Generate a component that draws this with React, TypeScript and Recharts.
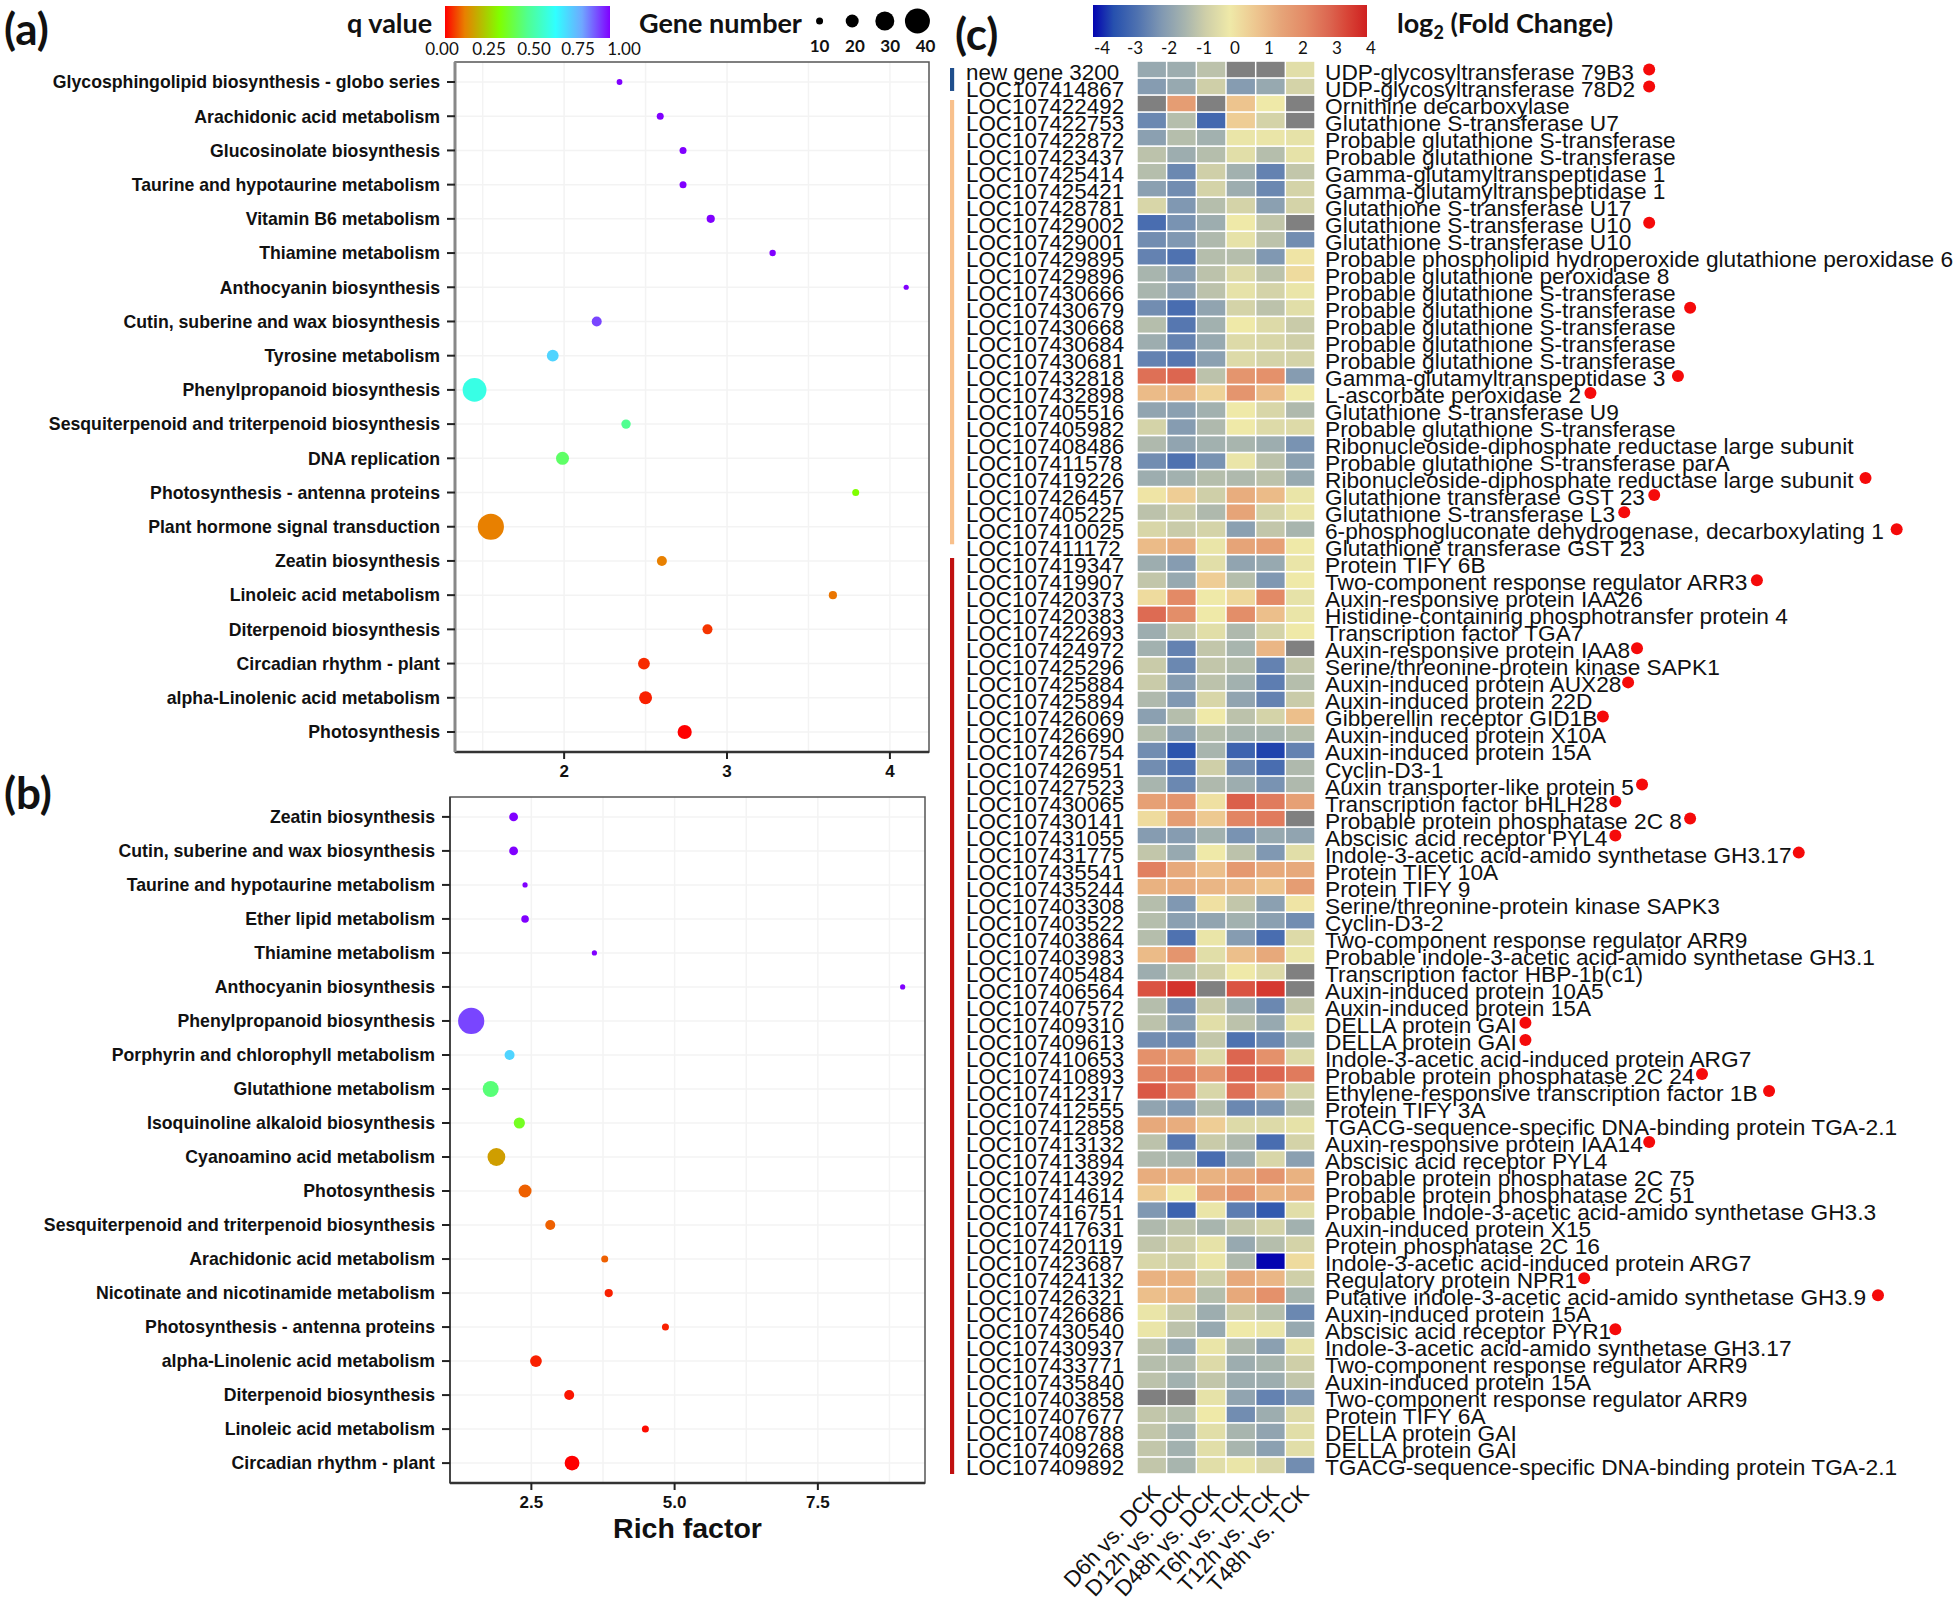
import React from "react";
import { ScatterChart, Scatter, XAxis, YAxis, CartesianGrid, ReferenceArea } from "recharts";

const FONT = "'Liberation Sans', Arial, sans-serif";
const TITLE_FONT = "Lato, 'Noto Sans', sans-serif";

// ---------- panel (a) ----------
const namesA = ["Glycosphingolipid biosynthesis - globo series","Arachidonic acid metabolism","Glucosinolate biosynthesis","Taurine and hypotaurine metabolism","Vitamin B6 metabolism","Thiamine metabolism","Anthocyanin biosynthesis","Cutin, suberine and wax biosynthesis","Tyrosine metabolism","Phenylpropanoid biosynthesis","Sesquiterpenoid and triterpenoid biosynthesis","DNA replication","Photosynthesis - antenna proteins","Plant hormone signal transduction","Zeatin biosynthesis","Linoleic acid metabolism","Diterpenoid biosynthesis","Circadian rhythm - plant","alpha-Linolenic acid metabolism","Photosynthesis"];
const richA = [2.34,2.59,2.73,2.73,2.9,3.28,4.1,2.2,1.93,1.45,2.38,1.99,3.79,1.55,2.6,3.65,2.88,2.49,2.5,2.74];
const genesA = [8,10,10,10,12,9,7,15,18,38,14,20,10,42,15,12,15,18,20,22];
const qA = [1,1,1,1,1,1,1,0.93,0.75,0.63,0.5,0.45,0.33,0.12,0.12,0.11,0.05,0.04,0.03,0];
const ticksA = [2,3,4];
const gridA = [1.5,2,2.5,3,3.5,4];

// ---------- panel (b) ----------
const namesB = ["Zeatin biosynthesis","Cutin, suberine and wax biosynthesis","Taurine and hypotaurine metabolism","Ether lipid metabolism","Thiamine metabolism","Anthocyanin biosynthesis","Phenylpropanoid biosynthesis","Porphyrin and chlorophyll metabolism","Glutathione metabolism","Isoquinoline alkaloid biosynthesis","Cyanoamino acid metabolism","Photosynthesis","Sesquiterpenoid and triterpenoid biosynthesis","Arachidonic acid metabolism","Nicotinate and nicotinamide metabolism","Photosynthesis - antenna proteins","alpha-Linolenic acid metabolism","Diterpenoid biosynthesis","Linoleic acid metabolism","Circadian rhythm - plant"];
const richB = [2.19,2.19,2.39,2.39,3.6,8.98,1.45,2.12,1.79,2.29,1.89,2.39,2.83,3.78,3.85,4.84,2.58,3.16,4.49,3.21];
const genesB = [13,13,7,11,7,7,42,15,25,17,28,20,15,10,12,10,18,15,10,23];
const qB = [1,1,1,1,1,1,0.93,0.75,0.47,0.37,0.17,0.09,0.09,0.09,0.03,0.03,0.03,0.02,0.01,0];
const ticksB = [2.5,5,7.5];
const gridB = [2.5,3.75,5,6.25,7.5,8.75];

// ---------- legends ----------
const qStops: [number,string][] = [[0,"#ff0000"],[0.12,"#e88000"],[0.33,"#80ff00"],[0.5,"#50ff90"],[0.67,"#30ffff"],[0.83,"#6fa8ff"],[1,"#8000ff"]];
const qLegend = ["0.00","0.25","0.50","0.75","1.00"];
const qLegendX = [442,489,534,578,624];
const geneLegend = [10,20,30,40];
const fcStops: [number,string][] = [[-4,"#0404b0"],[-3.4,"#2650ae"],[-2.7,"#4f72b0"],[-2,"#8098b2"],[-1.3,"#a8b5ae"],[-0.7,"#cfcfa8"],[0,"#efe9a8"],[0.8,"#edc48e"],[1.5,"#e6a478"],[2.2,"#e38a66"],[2.9,"#dc6650"],[3.4,"#d84638"],[4,"#cf2020"]];
const fcLegend = [-4,-3,-2,-1,0,1,2,3,4];
const fcLegendX = [1102,1135,1169,1204,1235,1269,1303,1337,1371];

// ---------- panel (c) ----------
const conditions = ["D6h vs. DCK","D12h vs. DCK","D48h vs. DCK","T6h vs. TCK","T12h vs. TCK","T48h vs. TCK"];
const geneIds = ["new gene 3200","LOC107414867","LOC107422492","LOC107422753","LOC107422872","LOC107423437","LOC107425414","LOC107425421","LOC107428781","LOC107429002","LOC107429001","LOC107429895","LOC107429896","LOC107430666","LOC107430679","LOC107430668","LOC107430684","LOC107430681","LOC107432818","LOC107432898","LOC107405516","LOC107405982","LOC107408486","LOC107411578","LOC107419226","LOC107426457","LOC107405225","LOC107410025","LOC107411172","LOC107419347","LOC107419907","LOC107420373","LOC107420383","LOC107422693","LOC107424972","LOC107425296","LOC107425884","LOC107425894","LOC107426069","LOC107426690","LOC107426754","LOC107426951","LOC107427523","LOC107430065","LOC107430141","LOC107431055","LOC107431775","LOC107435541","LOC107435244","LOC107403308","LOC107403522","LOC107403864","LOC107403983","LOC107405484","LOC107406564","LOC107407572","LOC107409310","LOC107409613","LOC107410653","LOC107410893","LOC107412317","LOC107412555","LOC107412858","LOC107413132","LOC107413894","LOC107414392","LOC107414614","LOC107416751","LOC107417631","LOC107420119","LOC107423687","LOC107424132","LOC107426321","LOC107426686","LOC107430540","LOC107430937","LOC107433771","LOC107435840","LOC107403858","LOC107407677","LOC107408788","LOC107409268","LOC107409892"];
const geneNames = ["UDP-glycosyltransferase 79B3","UDP-glycosyltransferase 78D2","Ornithine decarboxylase","Glutathione S-transferase U7","Probable glutathione S-transferase","Probable glutathione S-transferase","Gamma-glutamyltranspeptidase 1","Gamma-glutamyltranspeptidase 1","Glutathione S-transferase U17","Glutathione S-transferase U10","Glutathione S-transferase U10","Probable phospholipid hydroperoxide glutathione peroxidase 6","Probable glutathione peroxidase 8","Probable glutathione S-transferase","Probable glutathione S-transferase","Probable glutathione S-transferase","Probable glutathione S-transferase","Probable glutathione S-transferase","Gamma-glutamyltranspeptidase 3","L-ascorbate peroxidase 2","Glutathione S-transferase U9","Probable glutathione S-transferase","Ribonucleoside-diphosphate reductase large subunit","Probable glutathione S-transferase parA","Ribonucleoside-diphosphate reductase large subunit","Glutathione transferase GST 23","Glutathione S-transferase L3","6-phosphogluconate dehydrogenase, decarboxylating 1","Glutathione transferase GST 23","Protein TIFY 6B","Two-component response regulator ARR3","Auxin-responsive protein IAA26","Histidine-containing phosphotransfer protein 4","Transcription factor TGA7","Auxin-responsive protein IAA8","Serine/threonine-protein kinase SAPK1","Auxin-induced protein AUX28","Auxin-induced protein 22D","Gibberellin receptor GID1B","Auxin-induced protein X10A","Auxin-induced protein 15A","Cyclin-D3-1","Auxin transporter-like protein 5","Transcription factor bHLH28","Probable protein phosphatase 2C 8","Abscisic acid receptor PYL4","Indole-3-acetic acid-amido synthetase GH3.17","Protein TIFY 10A","Protein TIFY 9","Serine/threonine-protein kinase SAPK3","Cyclin-D3-2","Two-component response regulator ARR9","Probable indole-3-acetic acid-amido synthetase GH3.1","Transcription factor HBP-1b(c1)","Auxin-induced protein 10A5","Auxin-induced protein 15A","DELLA protein GAI","DELLA protein GAI","Indole-3-acetic acid-induced protein ARG7","Probable protein phosphatase 2C 24","Ethylene-responsive transcription factor 1B","Protein TIFY 3A","TGACG-sequence-specific DNA-binding protein TGA-2.1","Auxin-responsive protein IAA14","Abscisic acid receptor PYL4","Probable protein phosphatase 2C 75","Probable protein phosphatase 2C 51","Probable Indole-3-acetic acid-amido synthetase GH3.3","Auxin-induced protein X15","Protein phosphatase 2C 16","Indole-3-acetic acid-induced protein ARG7","Regulatory protein NPR1","Putative indole-3-acetic acid-amido synthetase GH3.9","Auxin-induced protein 15A","Abscisic acid receptor PYR1","Indole-3-acetic acid-amido synthetase GH3.17","Two-component response regulator ARR9","Auxin-induced protein 15A","Two-component response regulator ARR9","Protein TIFY 6A","DELLA protein GAI","DELLA protein GAI","TGACG-sequence-specific DNA-binding protein TGA-2.1"];
const N = null;
const foldChange: (number|null)[][] = [
[-1.6,-1.5,-1,N,N,-0.3],[-1.9,-1.6,-0.7,-1.9,-1.6,-0.6],[N,1.7,N,0.8,0,N],[-2.3,-1.1,-2.9,0.6,-0.6,N],[-1.8,-1.1,-1.4,-0.1,-0.1,-0.2],[-1,-1.5,-1.1,-0.3,-1.1,-0.2],[-1.1,-2.3,-0.7,-1.4,-2.4,-0.9],[-1.8,-2.2,-0.6,-1.5,-2.3,-0.6],[-0.5,-2,-1.1,-0.6,-1.8,-0.6],[-2.8,-2.1,-1.5,0,-0.9,N],
[-2.2,-2,-1.2,-0.2,-1,-2.2],[-2.4,-2.7,-1.1,-1.1,-2,0.1],[-1.3,-1.9,-1,-0.4,-1,0.3],[-1.3,-1.8,-1,-0.2,-0.6,-0.1],[-2.2,-2.8,-1.7,-0.6,-1,-0.3],[-1.1,-2.6,-1.4,0,-0.4,-0.8],[-1.5,-2.4,-1.6,-0.4,-0.5,-0.7],[-2.4,-2.6,-1.8,-0.4,-0.6,-0.6],[2.7,2.9,-1,1.9,2,-1.9],[1,1.2,0.5,1.9,1,0],
[-1.7,-1.8,-1.4,0,-0.5,-1.2],[-0.6,-1.9,-1.2,0,-0.4,-0.4],[-1.2,-1.7,-1.4,-1.3,-1.5,-2.1],[-2.2,-2.7,-2.1,-0.1,-1,-1.8],[-1.5,-1.4,-1.1,-1.2,-1,-1.6],[0.1,0.6,-0.7,1.3,1,-0.1],[-1,-0.8,-1.2,1.5,-0.6,-0.1],[-0.5,-0.8,-0.6,-1.8,-0.9,-1.3],[1,1.3,-0.1,1.5,1.6,0],[-1.5,-1.9,-0.3,-1.7,-1.6,-0.1],
[-0.9,-1.6,0.6,-1.1,-2,0],[0.3,2.2,0,0.4,2.2,-0.2],[2.8,2.1,0,2.1,0.9,-0.1],[-1.5,-0.9,-0.3,-1.2,-0.6,0],[-1.4,-2.4,-0.9,-1.3,1.1,N],[-0.8,-2.3,-0.9,-1.1,-2.4,-0.9],[-0.8,-1.9,-1,-1.4,-2.5,-1.1],[-1.2,-2,-0.5,-1.7,-2.4,-0.8],[-1.8,-1.1,0,-1,-0.6,0.9],[-1.1,-1.8,-1.1,-1.3,-1.3,-1.1],
[-2.2,-3.3,-1.3,-3,-3.5,-2.4],[-2.2,-2.7,-0.7,-2.2,-2.8,-1.2],[-1.3,-2.3,-1.2,-1.5,-2.1,-1.2],[1.6,1.9,0.2,3,2.5,1.6],[0.3,1.7,0.7,2.3,2.5,N],[-1.9,-1.9,-1.4,-2.1,-1.6,-1.7],[-0.9,-1.6,0,-1,-2,-0.3],[2.4,1.4,0.9,1.8,1.4,1.4],[1.2,1.3,1.1,1.1,0.8,1.7],[-1.1,-2,0.2,-0.9,-1.8,0.1],
[-1.1,-1.8,-1.7,-1.4,-1.8,-2.2],[-1.1,-2.7,-0.1,-1.9,-2.8,-0.4],[1,1.9,-0.3,0.9,1.4,-0.1],[-1.5,-1.1,-0.7,0,-0.4,N],[3.2,3.7,N,3.2,3.6,N],[-1.1,-2.2,-0.8,-1.5,-2.3,-0.9],[-1,-1.9,-0.3,-1,-1.6,-0.2],[-2.2,-2.3,-0.9,-2.7,-2.3,-1.4],[2,1.8,-0.4,2.9,2,-0.4],[2.3,2.5,1.9,2.9,2.9,2.5],
[3.1,2.4,-0.5,2.7,1.5,-0.6],[-1.7,-2,-1.1,-2.3,-2.1,-1.1],[1.4,1.3,0.6,-0.4,-0.4,-0.2],[-1,-2.6,-0.8,-1.2,-2.8,-0.6],[-1.2,-1.3,-2.8,-1.5,-0.5,-1.8],[1.3,1.3,1.2,1.4,1.9,1.2],[0.7,0,1.5,1.9,1.2,1.3],[-2,-3,-0.1,-2.5,-3.2,-0.3],[-1.2,-1,-1.3,-0.9,-0.6,-1.4],[-0.9,-0.7,-0.2,-1.6,-1.1,-0.6],
[-0.5,-0.7,-0.1,-1.2,-4,0.3],[1.2,1.2,-0.7,1.4,1.1,-0.7],[0.9,1.1,-1.1,1.4,2,-1.3],[-0.1,-0.8,-1.5,-0.8,-1.1,-2.3],[-0.1,-1,-1.6,0,-0.1,-1.6],[-1,-1.6,-0.1,-1.2,-1.8,-0.2],[-1.1,-1.2,-0.4,-1.5,-1.3,-0.7],[-1,-1.4,-0.9,-1.5,-1.5,-0.9],[N,N,-0.2,-1.7,-2.4,-2],[-0.9,-1.1,0,-2.2,-1.5,-0.4],
[-0.9,-1.4,-0.3,-1.3,-1.7,-0.3],[-0.9,-1.4,-0.3,-1.3,-1.8,-0.3],[-0.9,-1.3,-0.3,-0.1,-0.5,-2.2]];
// row index (0-based) and position of the red markers, in heatmap column units
const markerRows = [0,1,9,14,18,19,24,25,26,27,30,34,36,38,42,43,44,45,46,56,57,59,60,63,71,72,74];
const markerPos = [17.26,17.26,17.26,18.64,18.23,15.28,24.55,17.43,16.42,25.6,20.89,16.85,16.55,15.7,17.02,16.12,18.64,16.12,22.3,13.09,13.09,19.04,21.3,17.26,15.07,24.97,16.12];
const groupFrom = [0.41,2.29,29.2];
const groupTo = [1.76,28.38,83];
const groupColors = ["#1f4e8c","#f8c08c","#c01010"];

const hex = (c: string) => [1,3,5].map((i) => parseInt(c.slice(i,i+2),16));
function ramp(stops: [number,string][], v: number) {
  if (v <= stops[0][0]) return stops[0][1];
  for (let i = 1; i < stops.length; i++) {
    if (v <= stops[i][0]) {
      const t = (v - stops[i-1][0]) / (stops[i][0] - stops[i-1][0]);
      const a = hex(stops[i-1][1]), b = hex(stops[i][1]);
      return `rgb(${a.map((x,k)=>Math.round(x+(b[k]-x)*t)).join(",")})`;
    }
  }
  return stops[stops.length-1][1];
}
const radius = (g: number) => 0.5 + 0.3*g;
const Bubble = (p: any) => <circle cx={p.cx} cy={p.cy} r={radius(p.payload.genes)} fill={ramp(qStops,p.payload.q)} />;
const GeneDot = (p: any) => <circle cx={p.cx} cy={p.cy} r={radius(p.payload.genes)} fill="#000" />;
const HeatCell = (p: any) => <rect x={p.cx-14.1} y={p.cy-7.7} width={28.2} height={15.4} fill={p.payload.v===null?"#808080":ramp(fcStops,p.payload.v)} />;
const Marker = (p: any) => <circle cx={p.cx} cy={p.cy} r={6} fill="#f50a0a" />;

function BubblePanel(props: any) {
  const { names, rich, genes, q, domain, ticks, grid, left, top, width, height, yWidth, marginRight, marginTop, axisH, leftAxis, fmt, label } = props;
  const data = names.map((n: string, i: number) => ({ row: i, rich: rich[i], genes: genes[i], q: q[i] }));
  const rows = names.map((_: string, i: number) => i);
  return (
    <div style={{ position: "absolute", left, top }}>
      <ScatterChart width={width} height={height} margin={{ top: marginTop, right: marginRight, bottom: 0, left: 0 }}>
        <CartesianGrid stroke="#f3f3f3" strokeWidth={1.5} verticalValues={grid} horizontalValues={rows} syncWithTicks={false} />
        <XAxis type="number" dataKey="rich" domain={domain} ticks={ticks} interval={0} height={axisH} tickFormatter={fmt} allowDataOverflow
          tick={{ fontSize: 17, fontWeight: "bold", fill: "#111", fontFamily: FONT }} tickSize={7} tickMargin={6}
          tickLine={{ stroke: "#222", strokeWidth: 2 }} axisLine={{ stroke: "#333", strokeWidth: 2.5 }} label={label} />
        <YAxis type="number" dataKey="row" reversed domain={[-0.585, names.length-1+0.585]} ticks={rows} interval={0} width={yWidth} allowDataOverflow
          tickFormatter={(i: number) => names[i]} tick={{ fontSize: 17.7, fontWeight: "bold", fill: "#111", fontFamily: FONT }} tickSize={8} tickMargin={7}
          tickLine={{ stroke: "#222", strokeWidth: 2 }} axisLine={leftAxis} />
        <ReferenceArea x1={domain[0]} x2={domain[1]} y1={-0.585} y2={names.length-1+0.585} fill="none" stroke="#555" strokeWidth={1.5} />
        <Scatter data={data} isAnimationActive={false} shape={Bubble} />
      </ScatterChart>
    </div>
  );
}

const HEAT_X: [number,number] = [-6.3, 27.7];
const LEFT_LABEL_X = 16;
const RIGHT_LABEL_X = 375;
const LeftTick = (p: any) => <text x={LEFT_LABEL_X} y={p.y+10} fontSize={22.4} fontFamily={FONT} fill="#111">{geneIds[p.payload.value-0.5]}</text>;
const RightTick = (p: any) => <text x={RIGHT_LABEL_X} y={p.y+10} fontSize={22.7} fontFamily={FONT} fill="#111">{geneNames[p.payload.value-0.5]}</text>;
const ColTick = (p: any) => (
  <text transform={`rotate(-47 ${p.x+10} ${p.y+12})`} x={p.x+10} y={p.y+12} textAnchor="end" fontSize={22.4} fontFamily={FONT} fill="#111">
    {conditions[p.payload.value-0.5]}
  </text>
);
const GeneTick = (p: any) => (
  <text x={p.x+(p.payload.value-10)*0.27} y={p.y+8} textAnchor="middle" fontSize={17} fontWeight="bold" fontFamily={TITLE_FONT} fill="#111">{p.payload.value}</text>
);

function Heatmap() {
  const cells = foldChange.flatMap((r, row) => r.map((v, col) => ({ col: col+0.5, row: row+0.5, v })));
  const markers = markerRows.map((r, i) => ({ col: markerPos[i], row: r+0.5 }));
  const rowTicks = geneIds.map((_, i) => i+0.5);
  return (
    <div style={{ position: "absolute", left: 950, top: 0 }}>
      <ScatterChart width={1009} height={1604} margin={{ top: 61, right: 0, bottom: 0, left: 0 }}>
        <XAxis type="number" dataKey="col" domain={HEAT_X} ticks={conditions.map((_, i) => i+0.5)} interval={0} height={130} tick={ColTick} tickLine={false} axisLine={false} />
        <YAxis yAxisId="l" type="number" dataKey="row" mirror reversed domain={[0,83]} ticks={rowTicks} interval={0} tick={LeftTick} tickLine={false} axisLine={false} />
        <YAxis yAxisId="r" type="number" dataKey="row" mirror reversed domain={[0,83]} ticks={rowTicks} interval={0} tick={RightTick} tickLine={false} axisLine={false} />
        {groupFrom.map((from, i) => (
          <ReferenceArea key={i} yAxisId="l" x1={HEAT_X[0]} x2={HEAT_X[0]+0.14} y1={from} y2={groupTo[i]} fill={groupColors[i]} fillOpacity={1} stroke="none" />
        ))}
        <Scatter yAxisId="l" data={cells} isAnimationActive={false} shape={HeatCell} />
        <Scatter yAxisId="r" data={markers} isAnimationActive={false} shape={Marker} />
      </ScatterChart>
    </div>
  );
}

const abs = (left: number, top: number, extra: any = {}) => ({ position: "absolute" as const, left, top, ...extra });
const centered = (x: number, y: number, size: number, extra: any = {}) => ({ position: "absolute" as const, left: x-40, width: 80, textAlign: "center" as const, top: y-size*0.6, fontSize: size, lineHeight: `${size*1.2}px`, ...extra });
const grad = (stops: [number,string][]) => {
  const a = stops[0][0], b = stops[stops.length-1][0];
  return `linear-gradient(to right, ${stops.map(([v,c]) => `${c} ${((v-a)/(b-a))*100}%`).join(", ")})`;
};

export default function App() {
  return (
    <div style={{ position: "absolute", left: 0, top: 0, width: 1959, height: 1604, background: "#fff", color: "#111", fontFamily: TITLE_FONT, overflow: "hidden" }}>
      <BubblePanel names={namesA} rich={richA} genes={genesA} q={qA} domain={[1.33,4.24]} ticks={ticksA} grid={gridA}
        left={0} top={50} width={950} height={742} yWidth={455} marginRight={21} marginTop={12} axisH={40} leftAxis={{ stroke: "#888", strokeWidth: 3 }} />
      <BubblePanel names={namesB} rich={richB} genes={genesB} q={qB} domain={[1.08,9.37]} ticks={ticksB} grid={gridB}
        left={0} top={785} width={950} height={775} yWidth={450} marginRight={25} marginTop={12} axisH={77} leftAxis={{ stroke: "#333", strokeWidth: 1.5 }}
        fmt={(v: number) => v.toFixed(1)}
        label={{ value: "Rich factor", position: "insideBottom", offset: 22, style: { fontSize: 28.5, fontWeight: "bold", fontFamily: FONT, fill: "#111" } }} />
      <Heatmap />

      <div style={abs(4,3,{ fontSize: 44, fontWeight: "bold", lineHeight: "50px" })}>(a)</div>
      <div style={abs(4,767,{ fontSize: 44, fontWeight: "bold", lineHeight: "50px" })}>(b)</div>
      <div style={abs(955,8,{ fontSize: 44, fontWeight: "bold", lineHeight: "50px" })}>(c)</div>

      <div style={abs(347,5,{ fontSize: 27, fontWeight: "bold", lineHeight: "36px" })}>q value</div>
      <div style={abs(445,6,{ width: 165, height: 32, background: grad(qStops) })} />
      {qLegend.map((t, i) => <div key={t} style={centered(qLegendX[i],49,17)}>{t}</div>)}

      <div style={abs(639,5,{ fontSize: 27, fontWeight: "bold", lineHeight: "36px" })}>Gene number</div>
      <div style={abs(800,0)}>
        <ScatterChart width={137} height={60} margin={{ top: 6, right: 0, bottom: 0, left: 0 }}>
          <XAxis type="number" dataKey="genes" domain={[4,46]} ticks={geneLegend} interval={0} height={24} tick={GeneTick} tickLine={false} axisLine={false} />
          <YAxis type="number" dataKey="y" domain={[0,2]} hide />
          <Scatter data={geneLegend.map((g) => ({ genes: g, y: 1 }))} isAnimationActive={false} shape={GeneDot} />
        </ScatterChart>
      </div>

      <div style={abs(1093,5,{ width: 274, height: 32, background: grad(fcStops) })} />
      {fcLegend.map((t, i) => <div key={t} style={centered(fcLegendX[i],48,17)}>{t}</div>)}
      <div style={abs(1397,5,{ fontSize: 27, fontWeight: "bold", lineHeight: "36px", whiteSpace: "nowrap" })}>log<sub style={{ fontSize: 18, lineHeight: 0 }}>2</sub> (Fold Change)</div>
    </div>
  );
}
